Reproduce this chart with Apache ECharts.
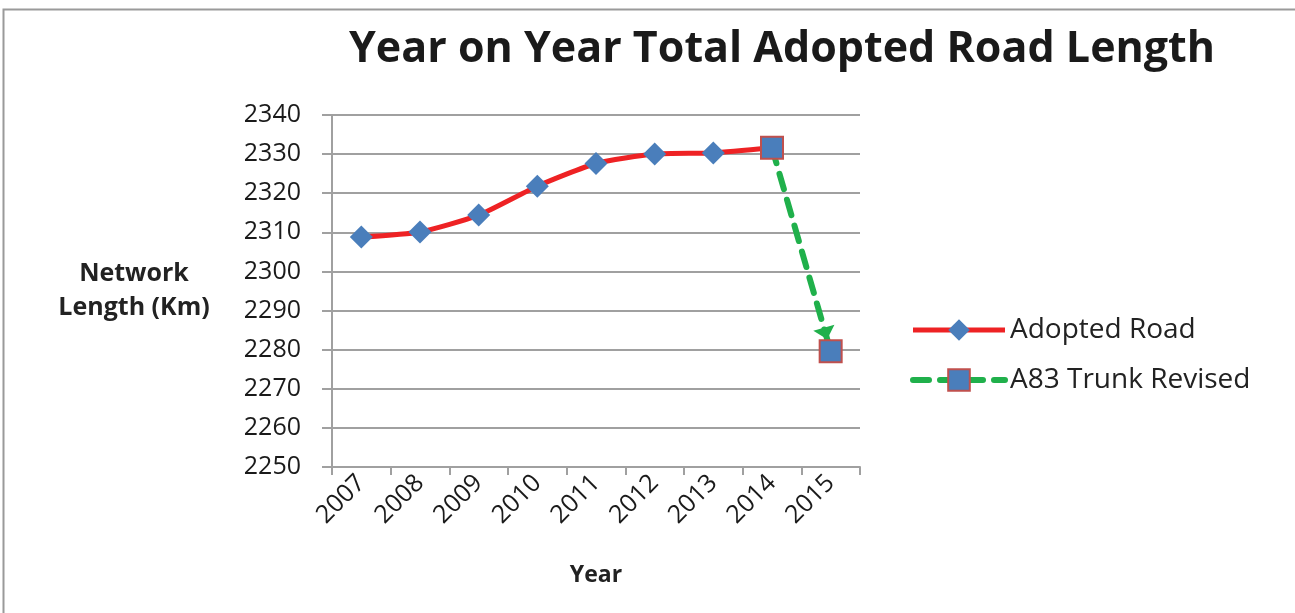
<!DOCTYPE html>
<html>
<head>
<meta charset="utf-8">
<script src="https://cdn.jsdelivr.net/npm/echarts@6/dist/echarts.min.js"></script>
<style>
  html, body { margin: 0; padding: 0; background: #fff; }
  #chart { width: 1295px; height: 613px; }
</style>
</head>
<body>
<div id="chart"></div>
<script>
// Network length by year (km)
const years = ['2007', '2008', '2009', '2010', '2011', '2012', '2013', '2014', '2015'];
const adoptedRoad = [2308.8, 2310.1, 2314.4, 2321.8, 2327.6, 2330.0, 2330.3, 2331.6, null];
const a83TrunkRevised = [null, null, null, null, null, null, null, 2331.6, 2279.6];
const yTicks = { min: 2250, max: 2340, interval: 10 };

const FONT = '"Open Sans", sans-serif';
const RED = '#ee2224';
const GREEN = '#20b04b';
const GREEN_DASH = { color: GREEN, width: 6, type: [16, 11], cap: 'round' };
const SQUARE = 22;

// Arrowhead at the end of the revised segment, stopping at the edge of the end marker.
function renderArrow(params, api) {
  const p0 = api.coord([7, a83TrunkRevised[7]]);
  const p1 = api.coord([8, a83TrunkRevised[8]]);
  const dx = p1[0] - p0[0], dy = p1[1] - p0[1];
  const len = Math.hypot(dx, dy);
  const ux = dx / len, uy = dy / len;
  const half = SQUARE / 2 + 1;
  const back = half / Math.max(Math.abs(ux), Math.abs(uy));
  const tip = [p1[0] - ux * back, p1[1] - uy * back];
  const headLen = 12, headHalf = 11;
  const base = [tip[0] - ux * headLen, tip[1] - uy * headLen];
  const nx = -uy, ny = ux;
  return {
    type: 'polygon',
    shape: { points: [tip, [base[0] + nx * headHalf, base[1] + ny * headHalf], [base[0] - nx * headHalf, base[1] - ny * headHalf]] },
    style: { fill: GREEN },
    silent: true
  };
}

const chart = echarts.init(document.getElementById('chart'), null, { renderer: 'canvas' });

chart.setOption({
  backgroundColor: '#ffffff',
  animation: false,
  title: {
    text: 'Year on Year Total Adopted Road Length',
    left: 777,
    top: 23,
    textAlign: 'center',
    textStyle: { fontFamily: FONT, fontWeight: 'bold', fontSize: 43, color: '#1a1a1a' }
  },
  graphic: [{
    type: 'rect',
    shape: { x: 3.5, y: 9.5, width: 1400, height: 700 },
    style: { fill: 'none', stroke: '#9a9a9a', lineWidth: 2 },
    silent: true
  }],
  legend: {
    orient: 'vertical',
    left: 905,
    top: 311,
    itemGap: 22,
    itemWidth: 92,
    itemHeight: 27,
    textStyle: { fontFamily: FONT, fontSize: 28, color: '#222', padding: [0, 0, 0, 0] },
    data: [
      { name: 'Adopted Road', lineStyle: { width: 5, color: RED } },
      { name: 'A83 Trunk Revised', lineStyle: GREEN_DASH }
    ]
  },
  grid: { left: 332, right: 435, top: 115, bottom: 146, containLabel: false },
  xAxis: {
    type: 'category',
    data: years,
    boundaryGap: true,
    name: 'Year',
    nameLocation: 'middle',
    nameGap: 97,
    nameTextStyle: { fontFamily: FONT, fontWeight: 'bold', fontSize: 23, color: '#222' },
    axisLine: { lineStyle: { color: '#a0a0a0', width: 2 } },
    axisTick: { show: true, length: 8, alignWithLabel: false, lineStyle: { color: '#a0a0a0', width: 2 } },
    axisLabel: { rotate: 45, fontFamily: FONT, fontSize: 25, color: '#1a1a1a', margin: 12 },
    splitLine: { show: false }
  },
  yAxis: {
    type: 'value',
    min: yTicks.min,
    max: yTicks.max,
    interval: yTicks.interval,
    name: 'Network\nLength (Km)',
    nameLocation: 'middle',
    nameGap: 198,
    nameRotate: 0,
    nameTextStyle: { fontFamily: FONT, fontWeight: 'bold', fontSize: 25, color: '#222', lineHeight: 34, align: 'center' },
    axisLine: { show: true, lineStyle: { color: '#a0a0a0', width: 2 } },
    axisTick: { show: true, length: 10, lineStyle: { color: '#a0a0a0', width: 2 } },
    axisLabel: { fontFamily: FONT, fontSize: 25, color: '#1a1a1a', margin: 31, formatter: (v) => String(v) },
    splitLine: { show: true, lineStyle: { color: '#a0a0a0', width: 2 } }
  },
  series: [
    {
      name: 'Adopted Road',
      type: 'line',
      data: adoptedRoad,
      smooth: 0.2,
      symbol: 'diamond',
      symbolSize: 23,
      lineStyle: { color: RED, width: 5 },
      itemStyle: { color: '#4a7ebb', borderWidth: 0 },
      z: 2
    },
    {
      name: 'A83 Trunk Revised',
      type: 'line',
      data: a83TrunkRevised,
      connectNulls: false,
      symbol: 'rect',
      symbolSize: SQUARE,
      lineStyle: GREEN_DASH,
      itemStyle: { color: '#4a7ebb', borderColor: '#c0504d', borderWidth: 2 },
      z: 4
    },
    {
      name: 'arrowhead',
      type: 'custom',
      renderItem: renderArrow,
      data: [[8, a83TrunkRevised[8]]],
      silent: true,
      z: 3
    }
  ]
});
</script>
</body>
</html>
